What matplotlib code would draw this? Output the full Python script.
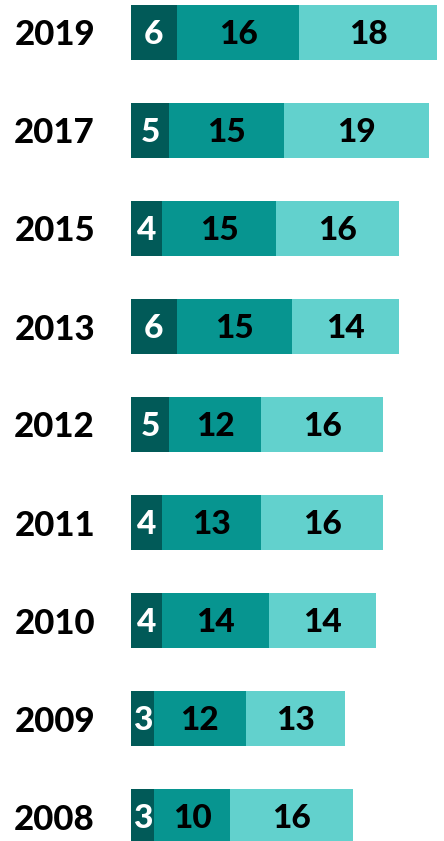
import matplotlib
matplotlib.use("Agg")
import matplotlib.pyplot as plt
import numpy as np

years = ["2019", "2017", "2015", "2013", "2012", "2011", "2010", "2009", "2008"]
seg_dark = [6, 5, 4, 6, 5, 4, 4, 3, 3]
seg_mid = [16, 15, 15, 15, 12, 13, 14, 12, 10]
seg_light = [18, 19, 16, 14, 16, 16, 14, 13, 16]

colors = ["#015a58", "#079590", "#62d1cd"]
text_colors = ["white", "black", "black"]

plt.rcParams["font.family"] = ["Lato", "DejaVu Sans"]

fig = plt.figure(figsize=(4.44, 8.41), dpi=100)
# bars start at x=131px, scale ~7.65 px per unit
scale = 7.65
ax = fig.add_axes([131 / 444, 0, 313 / 444, 1])

y = np.arange(len(years))
left = np.zeros(len(years))
for vals, c, tc in zip([seg_dark, seg_mid, seg_light], colors, text_colors):
    vals = np.array(vals)
    ax.barh(y, vals, left=left, height=0.56, color=c, edgecolor="none")
    for yi, l, v in zip(y, left, vals):
        ax.text(l + v / 2, yi + 0.02, str(v), ha="center", va="center",
                color=tc, fontsize=24, fontweight="black")
    left = left + vals

ax.set_xlim(0, 313 / scale)
ax.set_ylim((841 - 32.5) / 98, -32.5 / 98)
ax.set_yticks(y)
ax.set_yticklabels(years, fontsize=25, fontweight="black")
ax.tick_params(axis="y", length=0, pad=26)
ax.set_xticks([])
for s in ax.spines.values():
    s.set_visible(False)

fig.savefig("out.png", dpi=100)
